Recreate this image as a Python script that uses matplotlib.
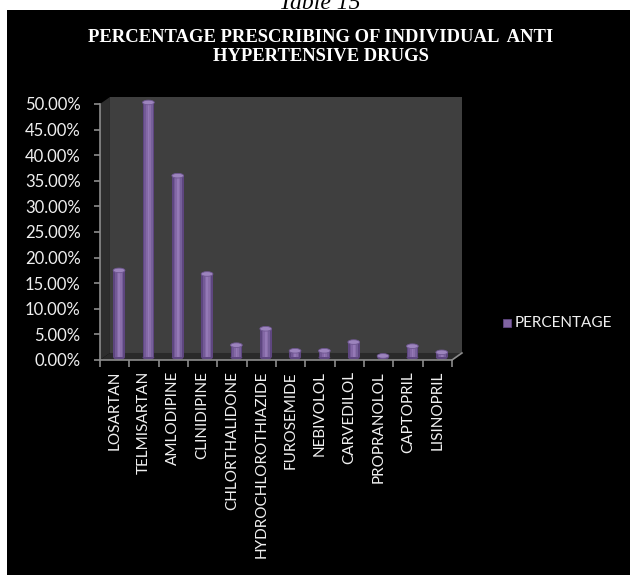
import matplotlib
matplotlib.use("Agg")
import matplotlib.pyplot as plt
from matplotlib.patches import Polygon, Rectangle, Ellipse
from matplotlib.lines import Line2D
import numpy as np

# data
drugs = ["LOSARTAN", "TELMISARTAN", "AMLODIPINE", "CLINIDIPINE", "CHLORTHALIDONE",
         "HYDROCHLOROTHIAZIDE", "FUROSEMIDE", "NEBIVOLOL", "CARVEDILOL",
         "PROPRANOLOL", "CAPTOPRIL", "LISINOPRIL"]
percentage = [17.0, 49.8, 35.5, 16.3, 2.4, 5.6, 1.3, 1.3, 3.0, 0.3, 2.2, 1.0]
yticks = [0, 5, 10, 15, 20, 25, 30, 35, 40, 45, 50]

W, H = 630, 575
fig = plt.figure(figsize=(W / 100, H / 100), dpi=100)
fig.patch.set_facecolor("white")

# caption above the chart, partly cut off at the top
fig.text(320 / W, 1 - 9 / H, "Table 15", ha="center", va="baseline",
         fontsize=17, family="Liberation Serif", style="italic", color="black")
# black chart background
fig.patches.append(Rectangle((7 / W, 0), 1 - 7 / W, 1 - 10 / H, transform=fig.transFigure,
                             facecolor="black", edgecolor="none", zorder=1))

fig.text(321 / W, 1 - 47 / H, "PERCENTAGE PRESCRIBING OF INDIVIDUAL  ANTI\nHYPERTENSIVE DRUGS",
         ha="center", va="center", fontsize=13.4, family="Liberation Serif",
         weight="bold", color="white", linespacing=1.18, zorder=3)

ax = fig.add_axes([100 / W, 1 - 360 / H, 352 / W, 256 / H])
ax.set_zorder(2)
ax.set_facecolor("none")
n = len(drugs)
x = np.arange(n)
ax.set_xlim(-0.5, n - 0.5)
ax.set_ylim(0, 50)

dx, dy = 0.34, 1.37  # depth offset of the 3d box
x0, x1 = -0.5, n - 0.5
wall = Polygon([(x0 + dx, dy), (x1 + dx, dy), (x1 + dx, 50 + dy), (x0 + dx, 50 + dy)],
               closed=True, facecolor="#3f3f3f", edgecolor="none", clip_on=False, zorder=0)
side = Polygon([(x0, 0), (x0 + dx, dy), (x0 + dx, 50 + dy), (x0, 50)],
               closed=True, facecolor="#2e2e2e", edgecolor="none", clip_on=False, zorder=0)
floor = Polygon([(x0, 0), (x1, 0), (x1 + dx, dy), (x0 + dx, dy)],
                closed=True, facecolor="#2a2a2a", edgecolor="none", clip_on=False, zorder=0)
for p in (wall, side, floor):
    ax.add_patch(p)
ax.add_line(Line2D([x1, x1 + dx], [0, dy], color="#8c8c8c", lw=1.2, clip_on=False))

# cylinder bars: shaded vertical strips plus an elliptic cap
bw = 0.4
xc = x + 0.15
base = 0.5
shades = ["#5e4680", "#735a96", "#8468a6", "#9479b6", "#8a6eaa", "#76609a", "#5e4680"]
ns = len(shades)
for k, c in enumerate(shades):
    ax.bar(xc - bw / 2 + k * bw / ns, percentage, width=bw / ns, bottom=base,
           align="edge", color=c, edgecolor="none", zorder=3, clip_on=False)
for xi, v in zip(xc, percentage):
    ax.add_patch(Ellipse((xi, base + v), bw, 0.9, facecolor="#9c84bd",
                         edgecolor="#6f5791", lw=0.6, zorder=4, clip_on=False))
    ax.add_patch(Ellipse((xi, base), bw, 0.9, facecolor="#5e4680",
                         edgecolor="none", zorder=2, clip_on=False))

for s in ("top", "right"):
    ax.spines[s].set_visible(False)
for s in ("left", "bottom"):
    ax.spines[s].set_color("#8c8c8c")
    ax.spines[s].set_linewidth(1.2)

ax.set_yticks(yticks)
ax.set_yticklabels(["%.2f%%" % v for v in yticks])
ax.set_xticks(x)
ax.set_xticklabels(drugs, rotation=90, va="top", ha="center")
ax.set_xticks(np.arange(n + 1) - 0.5, minor=True)
ax.tick_params(axis="y", colors="#8c8c8c", labelcolor="#f0f0f0", length=4, width=1.2,
               labelsize=12, pad=10)
ax.tick_params(axis="x", which="major", length=0, pad=8, labelcolor="#f0f0f0", labelsize=11)
ax.tick_params(axis="x", which="minor", length=5, width=1.2, color="#8c8c8c")
for lab in ax.get_xticklabels() + ax.get_yticklabels():
    lab.set_family(["Lato", "DejaVu Sans"])

# legend
fig.patches.append(Rectangle((503 / W, 1 - 327 / H), 8 / W, 8 / H, transform=fig.transFigure,
                             facecolor="#8064a2", edgecolor="#5e4680", lw=0.6, zorder=3))
fig.text(515 / W, 1 - 323 / H, "PERCENTAGE", ha="left", va="center", fontsize=11,
         family=["Lato", "DejaVu Sans"], color="#f0f0f0", zorder=3)

fig.savefig("out.png", dpi=100, facecolor="white")
